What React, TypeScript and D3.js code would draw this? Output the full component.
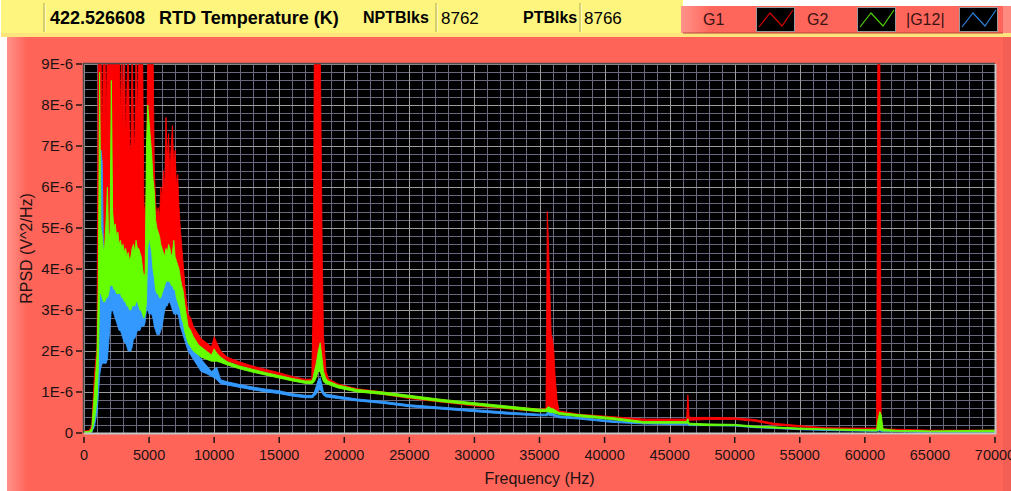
import React, { useEffect, useRef } from "react";
import * as d3 from "d3";

// frequency bins (Hz), shared by the three traces
const freqHz = [0, 400, 600, 800,
  1000, 1100, 1200, 1300, 1400, 1500, 1600, 1700, 1800, 1900,
  2000, 2100, 2200, 2300, 2400, 2500, 2600, 2700, 2800, 2900,
  3000, 3100, 3200, 3300, 3400, 3500, 3600, 3700, 3800, 3900,
  4000, 4100, 4200, 4300, 4400, 4500, 4600, 4700, 4800, 4900,
  5000, 5100, 5200, 5300, 5400, 5500, 5600, 5700, 5800, 5900,
  6000, 6100, 6200, 6300, 6400, 6500, 6600, 6700, 6800, 6900,
  7000, 7100, 7200, 7300, 7400, 7500, 7600,
  7800, 8000, 8200, 8400, 8600, 8800, 9000,
  9400, 9800, 10000, 10200, 10500, 11000, 12000, 13000, 14000, 15000, 16000, 17000, 17500, 17600, 17700, 17850, 18000, 18150, 18300, 18400, 18600, 18800, 19500, 21000, 23000, 25000, 27500, 30000, 32500, 35000, 35500, 35600, 35700, 35800, 35900, 36000, 36100, 36200, 36350, 36500, 38000, 40500, 43000, 46300, 46400, 46500, 48000, 50000, 51500, 53000, 55000, 57000, 59000, 60900, 61000, 61150, 61250, 61400, 62500, 64000, 65000, 68000, 70000];

// RPSD in units of 1E-6 V^2/Hz, upper / lower envelope of each trace per bin
const g1Hi = [0.05, 0.06, 0.2, 1.4,
  2.1, 9.6, 9.6, 9.6, 7.0, 9.6, 9.6, 7.4, 9.6, 9.6,
  9.6, 9.6, 9.6, 9.6, 9.6, 9.6, 9.6, 9.6, 7.6, 9.6,
  7.2, 9.6, 7.0, 8.4, 9.6, 7.1, 6.8, 9.6, 7.4, 6.9,
  9.6, 7.5, 9.6, 9.6, 9.6, 9.6, 5.6, 5.3, 6.0, 9.6,
  9.6, 9.6, 9.6, 9.6, 6.5, 5.6, 5.3, 5.5, 5.2, 6.0,
  5.6, 6.4, 5.9, 7.7, 6.6, 7.3, 6.2, 7.0, 7.5, 6.4,
  6.9, 6.0, 6.3, 5.5, 5.0, 4.6, 4.2,
  3.4, 2.9, 2.8, 2.6, 2.5, 2.4, 2.3,
  2.2, 2.1, 2.35, 2.2, 2.0, 1.85, 1.73, 1.63, 1.55, 1.47, 1.38, 1.31, 1.32, 3.0, 9.6, 9.6, 9.6, 9.6, 4.5, 2.4, 1.5, 1.32, 1.2, 1.08, 1.0, 0.9, 0.81, 0.72, 0.65, 0.58, 0.6, 5.4, 4.5, 3.4, 2.4, 2.3, 2.0, 1.4, 0.8, 0.54, 0.46, 0.4, 0.34, 0.34, 0.93, 0.38, 0.38, 0.37, 0.33, 0.24, 0.18, 0.13, 0.12, 0.12, 9.6, 9.6, 0.3, 0.1, 0.09, 0.08, 0.07, 0.07, 0.07];
const g1Lo = [0, 0.02, 0.05, 0.4,
  1.0, 3.0, 4.0, 4.2, 4.2, 4.1, 4.3, 4.4, 4.5, 4.4,
  4.6, 4.7, 4.8, 4.6, 4.5, 4.4, 4.4, 4.3, 4.3, 4.2,
  4.3, 4.2, 4.2, 4.1, 4.1, 4.0, 4.1, 4.2, 4.3, 4.2,
  4.3, 4.3, 4.2, 4.1, 4.0, 3.8, 3.5, 3.6, 3.8, 4.6,
  4.8, 4.7, 4.5, 4.2, 4.0, 3.8, 3.8, 3.7, 3.7, 3.8,
  3.8, 3.9, 3.9, 4.0, 4.0, 4.0, 4.0, 4.0, 4.0, 3.9,
  3.9, 3.7, 3.6, 3.4, 3.2, 3.0, 2.9,
  2.6, 2.4, 2.3, 2.2, 2.1, 2.05, 2.0,
  1.95, 1.9, 1.95, 1.9, 1.85, 1.76, 1.65, 1.56, 1.48, 1.4, 1.32, 1.25, 1.25, 1.26, 1.3, 1.4, 1.5, 1.5, 1.4, 1.35, 1.27, 1.24, 1.13, 1.02, 0.94, 0.84, 0.75, 0.66, 0.59, 0.52, 0.53, 0.56, 0.6, 0.6, 0.58, 0.58, 0.56, 0.54, 0.52, 0.48, 0.41, 0.35, 0.29, 0.29, 0.3, 0.31, 0.33, 0.33, 0.29, 0.2, 0.15, 0.11, 0.1, 0.1, 0.1, 0.12, 0.1, 0.08, 0.07, 0.06, 0.05, 0.05, 0.05];

const g2Hi = [0.03, 0.04, 0.12, 1.0,
  1.9, 3.5, 8.8, 5.0, 4.8, 4.4, 4.6, 5.2, 6.0, 4.7,
  4.9, 8.6, 5.4, 5.0, 5.1, 4.8, 4.9, 4.6, 4.7, 4.5,
  4.6, 4.4, 4.5, 4.3, 4.4, 4.2, 4.3, 4.5, 4.6, 4.4,
  4.7, 4.5, 4.5, 4.4, 4.3, 4.0, 3.8, 3.9, 7.0, 8.0,
  7.6, 7.2, 6.8, 6.2, 5.9, 5.2, 5.0, 4.9, 4.8, 4.6,
  4.5, 4.4, 4.3, 4.5, 4.4, 4.6, 4.5, 4.3, 4.4, 4.7,
  4.3, 4.2, 4.1, 4.0, 3.8, 3.6, 3.5,
  3.0, 2.6, 2.5, 2.35, 2.25, 2.15, 2.1,
  2.0, 1.9, 2.05, 1.95, 1.85, 1.74, 1.63, 1.55, 1.47, 1.4, 1.33, 1.27, 1.27, 1.35, 1.5, 1.7, 2.0, 2.2, 1.8, 1.5, 1.32, 1.26, 1.17, 1.06, 1.0, 0.92, 0.82, 0.74, 0.66, 0.58, 0.58, 0.62, 0.64, 0.62, 0.6, 0.6, 0.58, 0.56, 0.53, 0.5, 0.45, 0.38, 0.28, 0.28, 0.35, 0.24, 0.22, 0.21, 0.17, 0.15, 0.12, 0.1, 0.09, 0.08, 0.3, 0.52, 0.45, 0.1, 0.06, 0.06, 0.05, 0.06, 0.07];
const g2Lo = [0, 0.01, 0.03, 0.3,
  0.8, 1.6, 3.4, 3.4, 3.3, 3.2, 3.2, 3.3, 3.3, 3.4,
  3.6, 3.6, 3.6, 3.5, 3.5, 3.4, 3.4, 3.4, 3.4, 3.3,
  3.3, 3.2, 3.2, 3.1, 3.1, 3.0, 3.0, 3.1, 3.1, 3.1,
  3.2, 3.2, 3.1, 3.0, 3.0, 2.9, 2.8, 2.9, 3.2, 4.5,
  4.8, 4.6, 4.4, 4.0, 3.8, 3.5, 3.4, 3.4, 3.3, 3.3,
  3.4, 3.5, 3.6, 3.7, 3.7, 3.7, 3.7, 3.6, 3.6, 3.5,
  3.5, 3.3, 3.2, 3.1, 3.0, 2.8, 2.7,
  2.4, 2.2, 2.1, 2.0, 1.95, 1.9, 1.85,
  1.8, 1.75, 1.75, 1.75, 1.72, 1.66, 1.56, 1.48, 1.41, 1.34, 1.27, 1.21, 1.2, 1.22, 1.25, 1.35, 1.5, 1.5, 1.35, 1.25, 1.2, 1.18, 1.1, 1.0, 0.94, 0.86, 0.76, 0.68, 0.6, 0.52, 0.52, 0.52, 0.52, 0.5, 0.5, 0.5, 0.49, 0.48, 0.47, 0.45, 0.4, 0.33, 0.24, 0.24, 0.24, 0.2, 0.18, 0.18, 0.14, 0.12, 0.09, 0.08, 0.06, 0.05, 0.06, 0.08, 0.06, 0.05, 0.04, 0.04, 0.03, 0.03, 0.03];

const g12Hi = [0.02, 0.03, 0.06, 0.5,
  1.2, 1.6, 2.6, 6.9, 6.6, 4.2, 4.0, 3.8, 3.8, 4.0,
  4.2, 6.8, 4.4, 4.2, 4.1, 3.9, 3.8, 3.9, 3.7, 3.6,
  3.6, 3.5, 3.5, 3.4, 3.4, 3.3, 3.3, 3.4, 3.5, 3.6,
  3.7, 3.6, 3.6, 3.5, 3.4, 3.3, 3.2, 3.3, 5.5, 7.5,
  7.3, 6.9, 6.6, 6.0, 5.6, 4.3, 4.0, 3.9, 3.8, 3.9,
  3.9, 3.8, 3.8, 3.9, 3.9, 3.8, 3.8, 3.9, 3.9, 4.3,
  4.0, 3.5, 3.4, 3.4, 3.3, 3.1, 2.9,
  2.6, 2.3, 2.2, 2.1, 2.0, 1.9, 1.8,
  1.65, 1.5, 1.55, 1.6, 1.3, 1.25, 1.18, 1.12, 1.07, 1.03, 0.96, 0.92, 0.92, 0.95, 1.0, 1.15, 1.3, 1.35, 1.15, 1.0, 0.95, 0.94, 0.9, 0.83, 0.77, 0.69, 0.63, 0.57, 0.51, 0.46, 0.46, 0.5, 0.56, 0.52, 0.5, 0.48, 0.47, 0.46, 0.44, 0.42, 0.38, 0.3, 0.25, 0.24, 0.25, 0.22, 0.21, 0.2, 0.16, 0.14, 0.1, 0.08, 0.07, 0.06, 0.12, 0.3, 0.15, 0.06, 0.05, 0.04, 0.04, 0.04, 0.04];
const g12Lo = [0, 0, 0.02, 0.15,
  0.5, 0.9, 1.4, 1.6, 1.7, 1.7, 1.7, 1.7, 1.8, 2.2,
  2.6, 3.0, 3.0, 2.9, 2.8, 2.7, 2.6, 2.5, 2.5, 2.4,
  2.3, 2.2, 2.2, 2.1, 2.0, 2.0, 2.0, 2.1, 2.3, 2.3,
  2.4, 2.5, 2.5, 2.5, 2.6, 2.6, 2.6, 2.7, 3.0, 3.0,
  2.9, 2.9, 2.9, 2.8, 2.6, 2.5, 2.4, 2.4, 2.4, 2.5,
  2.6, 2.8, 3.0, 3.1, 3.1, 3.2, 3.2, 3.1, 3.0, 2.9,
  2.9, 2.9, 2.9, 2.8, 2.6, 2.5, 2.4,
  2.2, 2.0, 1.9, 1.8, 1.7, 1.6, 1.5,
  1.45, 1.38, 1.35, 1.3, 1.2, 1.17, 1.11, 1.05, 1.0, 0.96, 0.9, 0.86, 0.86, 0.87, 0.9, 0.95, 1.05, 1.05, 0.98, 0.92, 0.88, 0.87, 0.84, 0.78, 0.72, 0.64, 0.58, 0.52, 0.46, 0.42, 0.42, 0.42, 0.44, 0.42, 0.42, 0.42, 0.41, 0.4, 0.39, 0.37, 0.34, 0.26, 0.22, 0.2, 0.2, 0.18, 0.18, 0.17, 0.13, 0.11, 0.08, 0.06, 0.05, 0.04, 0.05, 0.05, 0.04, 0.03, 0.03, 0.02, 0.02, 0.02, 0.02];

const xTicks = [0, 5000, 10000, 15000, 20000, 25000, 30000, 35000, 40000, 45000, 50000, 55000, 60000, 65000, 70000];
const yTicks = [0, 1, 2, 3, 4, 5, 6, 7, 8, 9];

const statusValues = ["422.526608", "8762", "8766"];
const statusLabels = ["RTD Temperature (K)", "NPTBlks", "PTBlks"];
const legendNames = ["G1", "G2", "|G12|"];

const uiFont = "'Liberation Sans', Arial, sans-serif";

const App = () => {
  const ref = useRef<SVGSVGElement>(null);

  useEffect(() => {
    const W = 1011;
    const H = 491;
    const plot = { left: 84, right: 995, top: 64, bottom: 433 };

    const svg = d3.select(ref.current);
    svg.selectAll("*").remove();

    const x = d3.scaleLinear().domain([0, 70000]).range([plot.left, plot.right]);
    const y = d3.scaleLinear().domain([0, 9]).range([plot.bottom, plot.top]);

    const defs = svg.append("defs");
    defs.append("clipPath").attr("id", "plotClip")
      .append("rect")
      .attr("x", plot.left).attr("y", plot.top)
      .attr("width", plot.right - plot.left).attr("height", plot.bottom - plot.top);

    const leftGlow = defs.append("linearGradient").attr("id", "leftGlow");
    leftGlow.append("stop").attr("offset", "0%").attr("stop-color", "#fff").attr("stop-opacity", 0.3);
    leftGlow.append("stop").attr("offset", "100%").attr("stop-color", "#fff").attr("stop-opacity", 0);

    // page background
    svg.append("rect").attr("width", W).attr("height", H).attr("fill", "#ffffff");

    // yellow status bar
    svg.append("rect").attr("x", 1).attr("y", 0).attr("width", 682).attr("height", 37).attr("fill", "#fdf57e");
    // strip under legend
    svg.append("rect").attr("x", 1).attr("y", 33).attr("width", W).attr("height", 4).attr("fill", "#fde47c");

    // main panel
    svg.append("rect").attr("x", 7).attr("y", 37).attr("width", W - 7).attr("height", H - 37).attr("fill", "#ff6459");
    svg.append("rect").attr("x", 7).attr("y", 37).attr("width", 20).attr("height", H - 37).attr("fill", "url(#leftGlow)");
    // slightly darker right border of the panel
    svg.append("rect").attr("x", 1003).attr("y", 37).attr("width", 8).attr("height", H - 37).attr("fill", "#f45f55");

    // value boxes in status bar
    [44, 436, 580].forEach(bx => {
      svg.append("line").attr("x1", bx).attr("x2", bx).attr("y1", 3).attr("y2", 32)
        .attr("stroke", "#bdb55e").attr("stroke-width", 1.2);
      svg.append("line").attr("x1", bx + 1.5).attr("x2", bx + 1.5).attr("y1", 4).attr("y2", 31)
        .attr("stroke", "#fffbc0").attr("stroke-width", 1);
    });

    const bar = svg.append("g").attr("font-family", uiFont).attr("fill", "#000");
    bar.append("text").attr("x", 50).attr("y", 24).attr("font-size", 18).attr("font-weight", "bold").text(statusValues[0]);
    bar.append("text").attr("x", 159).attr("y", 24).attr("font-size", 18).attr("font-weight", "bold").text(statusLabels[0]);
    bar.append("text").attr("x", 363).attr("y", 23).attr("font-size", 16).attr("font-weight", "bold").text(statusLabels[1]);
    bar.append("text").attr("x", 441).attr("y", 24).attr("font-size", 17).text(statusValues[1]);
    bar.append("text").attr("x", 523).attr("y", 23).attr("font-size", 16).attr("font-weight", "bold").text(statusLabels[2]);
    bar.append("text").attr("x", 584).attr("y", 24).attr("font-size", 17).text(statusValues[2]);

    // legend panel
    svg.append("rect").attr("x", 681).attr("y", 6).attr("width", 322).attr("height", 27).attr("fill", "#ff665b");
    svg.append("rect").attr("x", 681).attr("y", 6).attr("width", 30).attr("height", 27).attr("fill", "url(#leftGlow)");
    svg.append("rect").attr("x", 1003).attr("y", 6).attr("width", 8).attr("height", 27).attr("fill", "#ff8a80");
    svg.append("line").attr("x1", 683).attr("x2", 1003).attr("y1", 33).attr("y2", 33)
      .attr("stroke", "#b8443a").attr("stroke-width", 1);

    const legendColors = ["#d80000", "#4ccc00", "#2a7fd8"];
    const labelX = [703, 807, 906];
    const swatchX = [756, 857, 959];
    const zig = d3.line<number[]>().x(d => d[0]).y(d => d[1]);
    legendNames.forEach((name, i) => {
      svg.append("text").attr("x", labelX[i]).attr("y", 25)
        .attr("font-family", uiFont).attr("font-size", 16).attr("fill", "#3a1212").text(name);
      const g = svg.append("g").attr("transform", `translate(${swatchX[i]},7)`);
      g.append("rect").attr("x", 0.5).attr("y", 0.5).attr("width", 38).attr("height", 24)
        .attr("fill", "#000").attr("stroke", "#9a9a9a").attr("stroke-width", 1);
      g.append("path")
        .attr("d", zig([[3, 20], [14, 6], [26, 19], [37, 3]]))
        .attr("fill", "none").attr("stroke", legendColors[i]).attr("stroke-width", 1.2);
    });

    // plot background
    svg.append("rect")
      .attr("x", plot.left).attr("y", plot.top)
      .attr("width", plot.right - plot.left).attr("height", plot.bottom - plot.top)
      .attr("fill", "#000");

    // grid
    const grid = svg.append("g").attr("shape-rendering", "crispEdges");
    const minorX = d3.range(0, 70001, 1000).filter(v => v % 5000 !== 0);
    const minorY = d3.range(0, 45).filter(i => i % 5 !== 0).map(i => i * 0.2);
    grid.selectAll(".mx").data(minorX).enter().append("line")
      .attr("x1", d => Math.round(x(d)) + 0.5).attr("x2", d => Math.round(x(d)) + 0.5)
      .attr("y1", plot.top).attr("y2", plot.bottom)
      .attr("stroke", "#68687e").attr("stroke-width", 1);
    grid.selectAll(".my").data(minorY).enter().append("line")
      .attr("y1", d => Math.round(y(d)) + 0.5).attr("y2", d => Math.round(y(d)) + 0.5)
      .attr("x1", plot.left).attr("x2", plot.right)
      .attr("stroke", "#68687e").attr("stroke-width", 1);
    grid.selectAll(".Mx").data(xTicks).enter().append("line")
      .attr("x1", d => Math.round(x(d)) + 0.5).attr("x2", d => Math.round(x(d)) + 0.5)
      .attr("y1", plot.top).attr("y2", plot.bottom)
      .attr("stroke", "#9c9c9c").attr("stroke-width", 1);
    grid.selectAll(".My").data(yTicks).enter().append("line")
      .attr("y1", d => Math.round(y(d)) + 0.5).attr("y2", d => Math.round(y(d)) + 0.5)
      .attr("x1", plot.left).attr("x2", plot.right)
      .attr("stroke", "#9c9c9c").attr("stroke-width", 1);

    // traces: G1 first, |G12| next, G2 on top
    const traces = [
      { hi: g1Hi, lo: g1Lo, color: "#ff0000" },
      { hi: g12Hi, lo: g12Lo, color: "#3399ff" },
      { hi: g2Hi, lo: g2Lo, color: "#66ff00" },
    ];
    const idx = d3.range(freqHz.length);
    const data = svg.append("g").attr("clip-path", "url(#plotClip)");
    traces.forEach(t => {
      const area = d3.area<number>()
        .x(i => x(freqHz[i]))
        .y0(i => y(t.lo[i]))
        .y1(i => y(t.hi[i]));
      data.append("path")
        .attr("d", area(idx))
        .attr("fill", t.color)
        .attr("stroke", t.color)
        .attr("stroke-width", 0.9)
        .attr("stroke-linejoin", "round");
    });

    // plot frame
    svg.append("path")
      .attr("d", `M${plot.left - 0.5},${plot.bottom} V${plot.top - 0.5} H${plot.right}`)
      .attr("fill", "none").attr("stroke", "#4a4a4a").attr("stroke-width", 1.5);
    svg.append("path")
      .attr("d", `M${plot.left},${plot.bottom + 0.5} H${plot.right + 0.5} V${plot.top}`)
      .attr("fill", "none").attr("stroke", "#c6c6c6").attr("stroke-width", 2);

    // axes
    const axes = svg.append("g").attr("font-family", uiFont).attr("fill", "#1e1212");
    axes.selectAll(".xt").data(xTicks).enter().append("line")
      .attr("x1", d => x(d)).attr("x2", d => x(d))
      .attr("y1", 437).attr("y2", 443)
      .attr("stroke", "#1e1212").attr("stroke-width", 1.5);
    axes.selectAll(".xl").data(xTicks).enter().append("text")
      .attr("x", d => x(d)).attr("y", 460)
      .attr("text-anchor", "middle").attr("font-size", 14.5)
      .text(d => String(d));
    axes.selectAll(".yt").data(yTicks).enter().append("line")
      .attr("x1", 76).attr("x2", 82)
      .attr("y1", d => y(d)).attr("y2", d => y(d))
      .attr("stroke", "#1e1212").attr("stroke-width", 1.5);
    axes.selectAll(".yl").data(yTicks).enter().append("text")
      .attr("x", 73).attr("y", d => y(d)).attr("dy", "0.36em")
      .attr("text-anchor", "end").attr("font-size", 15)
      .text(d => (d === 0 ? "0" : `${d}E-6`));

    axes.append("text")
      .attr("x", (plot.left + plot.right) / 2).attr("y", 484)
      .attr("text-anchor", "middle").attr("font-size", 16)
      .text("Frequency (Hz)");
    axes.append("text")
      .attr("transform", `translate(32,${(plot.top + plot.bottom) / 2}) rotate(-90)`)
      .attr("text-anchor", "middle").attr("font-size", 16)
      .text("RPSD (V^2/Hz)");
  }, []);

  return (
    <div style={{ position: "absolute", left: 0, top: 0 }}>
      <svg ref={ref} width={1011} height={491} style={{ display: "block" }} />
    </div>
  );
};

export default App;
